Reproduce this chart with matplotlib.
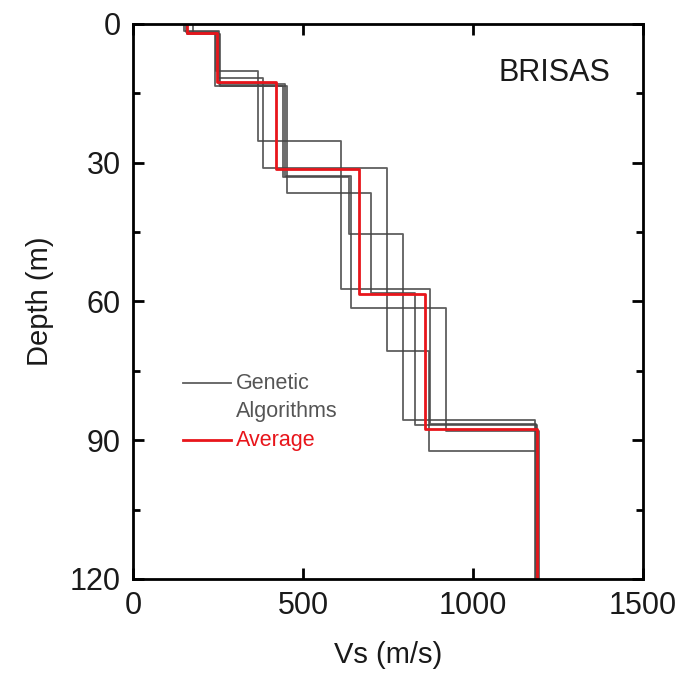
import matplotlib
matplotlib.use("Agg")
import matplotlib.pyplot as plt
import numpy as np

plt.rcParams['font.family'] = ['Liberation Sans', 'DejaVu Sans']

# layer velocities (m/s) and layer bottom depths (m), one profile per GA run
ga_vs = [
    [160, 245, 367, 612, 874, 1185],
    [155, 250, 382, 748, 871, 1190],
    [158, 255, 442, 636, 793, 1182],
    [175, 242, 454, 699, 829, 1188],
    [150, 252, 448, 640, 921, 1195],
]
ga_depth = [
    [2.0, 10.2, 25.3, 57.4, 86.5],
    [1.8, 11.6, 31.1, 70.8, 92.3],
    [2.2, 13.4, 33.0, 45.3, 85.6],
    [2.0, 13.4, 36.5, 58.2, 86.8],
    [1.6, 13.0, 32.8, 61.3, 88.0],
]
avg_vs = [158, 247, 420, 665, 859, 1188]
avg_depth = [2.0, 12.5, 31.4, 58.4, 87.6]
max_depth = 120


def stairs(vs, depth):
    # turn layer list into a step profile (x = Vs, y = depth)
    tops = [0] + list(depth)
    bots = list(depth) + [max_depth]
    x, y = [], []
    for v, t, b in zip(vs, tops, bots):
        x += [v, v]
        y += [t, b]
    return x, y


fig = plt.figure(figsize=(6.82, 6.76), dpi=100)
ax = fig.add_axes([0.195, 0.1435, 0.748, 0.821])

for vs, d in zip(ga_vs, ga_depth):
    x, y = stairs(vs, d)
    ax.plot(x, y, color="#444444", linewidth=1.3, alpha=0.85)

x, y = stairs(avg_vs, avg_depth)
ax.plot(x, y, color="#e8151b", linewidth=2.0)

ax.set_xlim(0, 1500)
ax.set_ylim(120, 0)
ax.set_xticks([0, 500, 1000, 1500])
ax.set_yticks([0, 30, 60, 90, 120])
ax.set_yticks([15, 45, 75, 105], minor=True)

ax.tick_params(which="both", direction="in", top=True, right=True, width=2)
ax.tick_params(which="major", length=8, labelsize=22, pad=9,
               labelcolor="#1a1a1a")
ax.tick_params(which="minor", length=5)
for s in ax.spines.values():
    s.set_linewidth(2)

ax.set_xlabel("Vs (m/s)", fontsize=21, labelpad=14, color="#1a1a1a")
ax.set_ylabel("Depth (m)", fontsize=21, labelpad=11, color="#1a1a1a")

ax.text(0.827, 0.912, "BRISAS", transform=ax.transAxes, fontsize=22,
        ha="center", va="center", color="#1a1a1a")

# legend drawn by hand so the gray handle sits on the first text line
ax.plot([0.098, 0.192], [0.353, 0.353], transform=ax.transAxes,
        color="#444444", linewidth=1.3, alpha=0.85)
ax.plot([0.098, 0.192], [0.250, 0.250], transform=ax.transAxes,
        color="#e8151b", linewidth=2.0)
ax.text(0.202, 0.353, "Genetic", transform=ax.transAxes, fontsize=15.5,
        color="#555555", va="center")
ax.text(0.202, 0.302, "Algorithms", transform=ax.transAxes, fontsize=15.5,
        color="#555555", va="center")
ax.text(0.202, 0.250, "Average", transform=ax.transAxes, fontsize=15.5,
        color="#e8151b", va="center")

fig.savefig("out.png", dpi=100)
